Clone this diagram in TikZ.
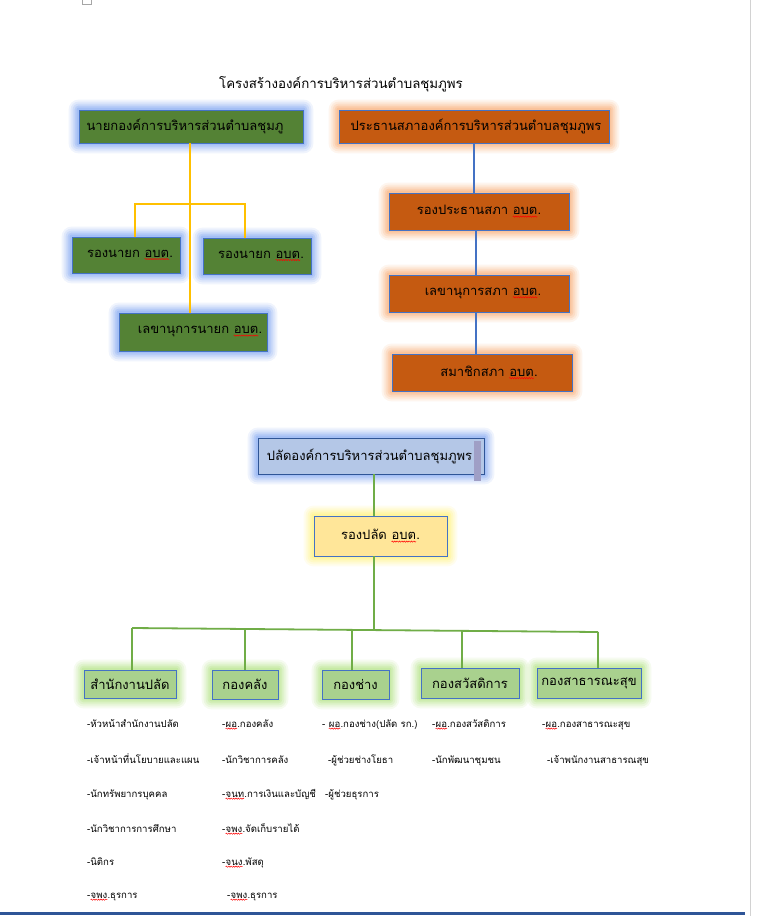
\documentclass[tikz,border=0pt]{standalone}
\usepackage{fontspec}
\newfontfamily\thai[Script=Thai]{Loma}
\usetikzlibrary{decorations.pathmorphing}
\pgfdeclarelayer{bg}\pgfsetlayers{bg,main}
\definecolor{boxblue}{HTML}{4472C4}
\definecolor{darkblue}{HTML}{2F5597}
\definecolor{olivegreen}{HTML}{548235}
\definecolor{rust}{HTML}{C55A11}
\definecolor{paleblue}{HTML}{B4C7E7}
\definecolor{paleyellow}{HTML}{FFE699}
\definecolor{palegreen}{HTML}{A9D18E}
\definecolor{linegold}{HTML}{FFC000}
\definecolor{linegreen}{HTML}{70AD47}
\definecolor{glowblue}{HTML}{6F9BF0}
\definecolor{gloworange}{HTML}{F8A060}
\definecolor{glowyellow}{HTML}{FFF060}
\definecolor{glowgreen}{HTML}{A8E070}
\tikzset{
  box/.style={draw=boxblue, line width=0.8pt, inner sep=0pt, text=black,
    font=\thai\fontsize{13}{15}\selectfont},
  exec/.style={box, fill=olivegreen},
  council/.style={box, fill=rust},
  chief/.style={box, fill=paleblue},
  deputy/.style={box, fill=paleyellow},
  dept/.style={box, fill=palegreen},
  listitem/.style={anchor=base west, inner sep=0pt, font=\thai\fontsize{9.6}{11}\selectfont},
  goldline/.style={draw=linegold, line width=1.5pt},
  blueline/.style={draw=boxblue, line width=1.3pt},
  greenline/.style={draw=linegreen, line width=1.8pt}
}
\newcommand\glow[2]{%
  \begin{pgfonlayer}{bg}%
  \foreach \r/\o in {10/0.10,8/0.13,6/0.17,4/0.22,2/0.25}{%
    \fill[#2, opacity=\o, rounded corners=\r pt]
      ([xshift=-\r pt, yshift=\r pt]#1.north west) rectangle
      ([xshift=\r pt, yshift=-\r pt]#1.south east);}%
  \end{pgfonlayer}}
\newcommand\sq[1]{\tikz[baseline=(w.base)]{\node[inner sep=0pt, outer sep=0pt, draw=none, fill=none,
    minimum width=0pt, minimum height=0pt] (w) {#1};
  \draw[red, line width=0.5pt, decorate, decoration={snake, amplitude=0.6pt, segment length=2.4pt}]
    ([yshift=-1.6pt]w.south west) -- ([yshift=-1.6pt]w.south east);}}
\begin{document}
\begin{tikzpicture}[x=1pt, y=-1pt]
\useasboundingbox (0,0) rectangle (756,916);
\begin{pgfonlayer}{bg}
\fill[white] (0,0) rectangle (756,916);
\end{pgfonlayer}
% page furniture
\draw[gray!70, line width=0.6pt] (82.5,-2) rectangle (91.5,4.5);
\draw[gray!35, line width=1pt] (750,0) -- (750,916);
\fill[darkblue] (0,911.5) rectangle (745,915);

% title
\node[font=\thai\fontsize{13.3}{15}\selectfont, inner sep=0pt] (title) at (341,84) {โครงสร้างองค์การบริหารส่วนตำบลชุมภูพร};

% executive side
\node[exec, minimum width=224pt, minimum height=33pt] (nayok) at (191,126.5) {\hspace*{-12pt}นายกองค์การบริหารส่วนตำบลชุมภู};
\node[exec, minimum width=108pt, minimum height=36pt] (rong1) at (126,255) {\hspace*{8pt}รองนายก \sq{อบต}.};
\node[exec, minimum width=108pt, minimum height=36pt] (rong2) at (257,256) {\hspace*{8pt}รองนายก \sq{อบต}.};
\node[exec, minimum width=148pt, minimum height=38pt] (leknayok) at (193,332) {\hspace*{14pt}เลขานุการนายก \sq{อบต}.};
\glow{nayok}{glowblue}
\glow{rong1}{glowblue}
\glow{rong2}{glowblue}
\glow{leknayok}{glowblue}
\coordinate (jL) at (135,204);
\coordinate (jR) at (245,204);
\draw[goldline] ([xshift=-1pt]nayok.south) -- ([xshift=-1pt]nayok.south |- leknayok.north);
\draw[goldline] (jL |- rong1.north) -- (jL) -- (jR) -- (jR |- rong2.north);

% council side
\node[council, minimum width=270pt, minimum height=33pt] (prathan) at (474,126.5) {\hspace*{4pt}ประธานสภาองค์การบริหารส่วนตำบลชุมภูพร};
\node[council, minimum width=180pt, minimum height=37pt] (rongpra) at (479,211.5) {รองประธานสภา \sq{อบต}.};
\node[council, minimum width=180pt, minimum height=37pt] (leksapa) at (479,293.5) {\hspace*{8pt}เลขานุการสภา \sq{อบต}.};
\node[council, minimum width=180pt, minimum height=37pt] (samachik) at (482,372.5) {\hspace*{14pt}สมาชิกสภา \sq{อบต}.};
\glow{prathan}{gloworange}
\glow{rongpra}{gloworange}
\glow{leksapa}{gloworange}
\glow{samachik}{gloworange}
\draw[blueline] (prathan.south) -- (prathan.south |- rongpra.north);
\draw[blueline] ([xshift=-3pt]rongpra.south) -- ([xshift=-3pt]rongpra.south |- leksapa.north);
\draw[blueline] ([xshift=-3pt]leksapa.south) -- ([xshift=-3pt]leksapa.south |- samachik.north);

% administration
\node[chief, draw=darkblue, minimum width=226pt, minimum height=36pt] (palad) at (371,456) {\hspace*{-3pt}ปลัดองค์การบริหารส่วนตำบลชุมภูพร};
\fill[gray!75!blue!60] (474,441) rectangle (481,481);
\node[deputy, minimum width=133pt, minimum height=40pt] (rongpalad) at (380.5,536) {รองปลัด \sq{อบต}.};
\glow{palad}{glowblue}
\glow{rongpalad}{glowyellow}
\coordinate (bj) at (374,629.5);
\draw[greenline] (palad.south -| bj) -- (rongpalad.north -| bj);
\draw[greenline] (rongpalad.south -| bj) -- (bj);

% departments
\node[dept, minimum width=92pt, minimum height=28pt] (d1) at (130,684) {สำนักงานปลัด};
\node[dept, minimum width=66pt, minimum height=29pt] (d2) at (245,684.5) {กองคลัง};
\node[dept, minimum width=67pt, minimum height=29pt] (d3) at (355.5,684.5) {กองช่าง};
\node[dept, minimum width=98pt, minimum height=30pt] (d4) at (470,683) {กองสวัสดิการ};
\node[dept, minimum width=104pt, minimum height=30pt] (d5) at (589,683) {กองสาธารณะสุข};
\foreach \n in {d1,d2,d3,d4,d5}{\glow{\n}{glowgreen}}
\coordinate (b1) at (132,628);
\coordinate (b2) at (245,629);
\coordinate (b3) at (352,629.5);
\coordinate (b4) at (462,630.5);
\coordinate (b5) at (598,632);
\draw[greenline] (b1) -- (b5);
\draw[greenline] (b1) -- (b1 |- d1.north);
\draw[greenline] (b2) -- (b2 |- d2.north);
\draw[greenline] (b3) -- (b3 |- d3.north);
\draw[greenline] (b4) -- (b4 |- d4.north);
\draw[greenline] (b5) -- (b5 |- d5.north);

% staff lists
\node[listitem] (a1) at (87,727) {-หัวหน้าสำนักงานปลัด};
\node[listitem] (a2) at (87,763) {-เจ้าหน้าที่นโยบายและแผน};
\node[listitem] (a3) at (87,797) {-นักทรัพยากรบุคคล};
\node[listitem] (a4) at (87,832) {-นักวิชาการการศึกษา};
\node[listitem] (a5) at (87,865) {-นิติกร};
\node[listitem] (a6) at (87,898) {-\sq{จพง}.ธุรการ};
\node[listitem] (c1) at (222,727) {-\sq{ผอ}.กองคลัง};
\node[listitem] (c2) at (222,763) {-นักวิชาการคลัง};
\node[listitem] (c3) at (222,797) {-\sq{จนท}.การเงินและบัญชี};
\node[listitem] (c4) at (222,832) {-\sq{จพง}.จัดเก็บรายได้};
\node[listitem] (c5) at (222,865) {-\sq{จนง}.พัสดุ};
\node[listitem] (c6) at (227,898) {-\sq{จพง}.ธุรการ};
\node[listitem] (e1) at (322,727) {- \sq{ผอ}.กองช่าง(ปลัด รก.)};
\node[listitem] (e2) at (328,763) {-ผู้ช่วยช่างโยธา};
\node[listitem] (e3) at (325,797) {-ผู้ช่วยธุรการ};
\node[listitem] (f1) at (432,727) {-\sq{ผอ}.กองสวัสดิการ};
\node[listitem] (f2) at (432,763) {-นักพัฒนาชุมชน};
\node[listitem] (g1) at (542,727) {-\sq{ผอ}.กองสาธารณะสุข};
\node[listitem] (g2) at (547,763) {-เจ้าพนักงานสาธารณสุข};
\end{tikzpicture}
\end{document}
